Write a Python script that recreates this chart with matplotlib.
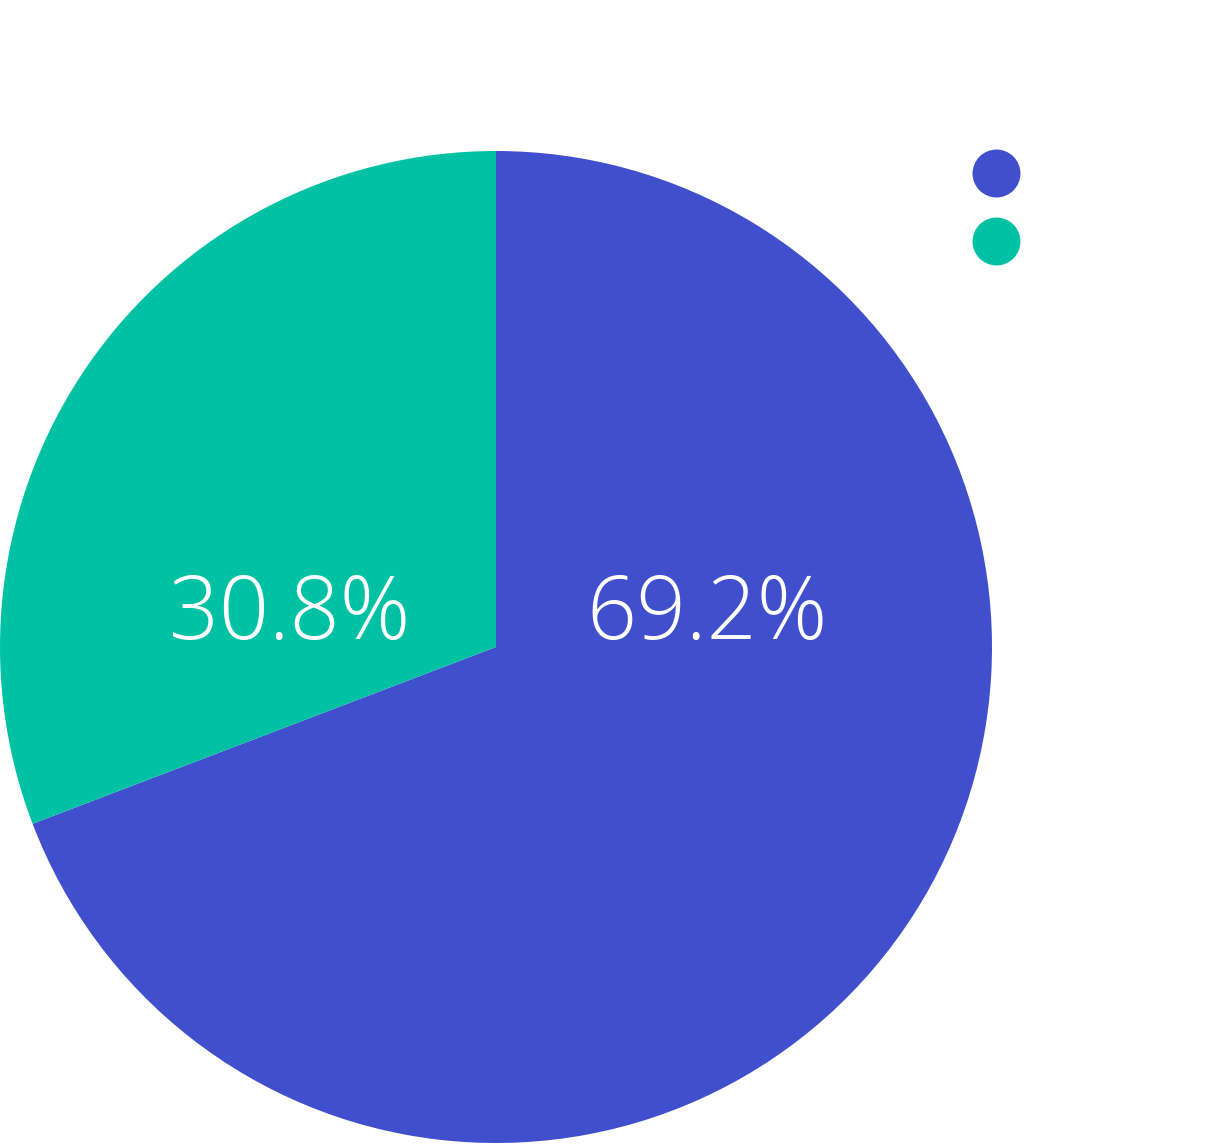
import matplotlib
matplotlib.use("Agg")
import matplotlib.pyplot as plt
from matplotlib.lines import Line2D

# data
categories = ["Series A", "Series B"]
shares = [69.2, 30.8]
colors = ["#404FCC", "#00C1A4"]

W, H = 1217, 1145
fig = plt.figure(figsize=(W / 100, H / 100), dpi=100)
fig.patch.set_facecolor("white")

# pie spans x 0..992 px, y 151..1143 px from top
ax = fig.add_axes([0, 2 / H, 992 / W, 992 / H])
wedges, _, autotexts = ax.pie(
    shares, colors=colors, startangle=90, counterclock=False,
    radius=1, autopct="%.1f%%", pctdistance=0.5,
    wedgeprops=dict(linewidth=0),
    textprops=dict(color="white", fontsize=63, weight="light",
                   family=["Open Sans", "DejaVu Sans"]),
)
# label placement as in the reference (roughly level, a bit above center)
autotexts[0].set_position((0.425, 0.062))
autotexts[1].set_position((-0.415, 0.062))
for t in autotexts:
    t.set_ha("center")
    t.set_va("center")
ax.set_xlim(-1, 1)
ax.set_ylim(-1, 1)
ax.set_aspect("auto")
ax.axis("off")

handles = [Line2D([], [], linestyle="none", marker="o", markersize=34.5,
                  markerfacecolor=c, markeredgewidth=0) for c in colors]
fig.legend(handles, ["", ""], loc="upper left",
           bbox_to_anchor=(972 / W, 1 - 159 / H), frameon=False,
           fontsize=20, handlelength=1.7, handleheight=1.7,
           labelspacing=1.11, borderpad=0, borderaxespad=0, handletextpad=0)

fig.savefig("out.png", dpi=100)
